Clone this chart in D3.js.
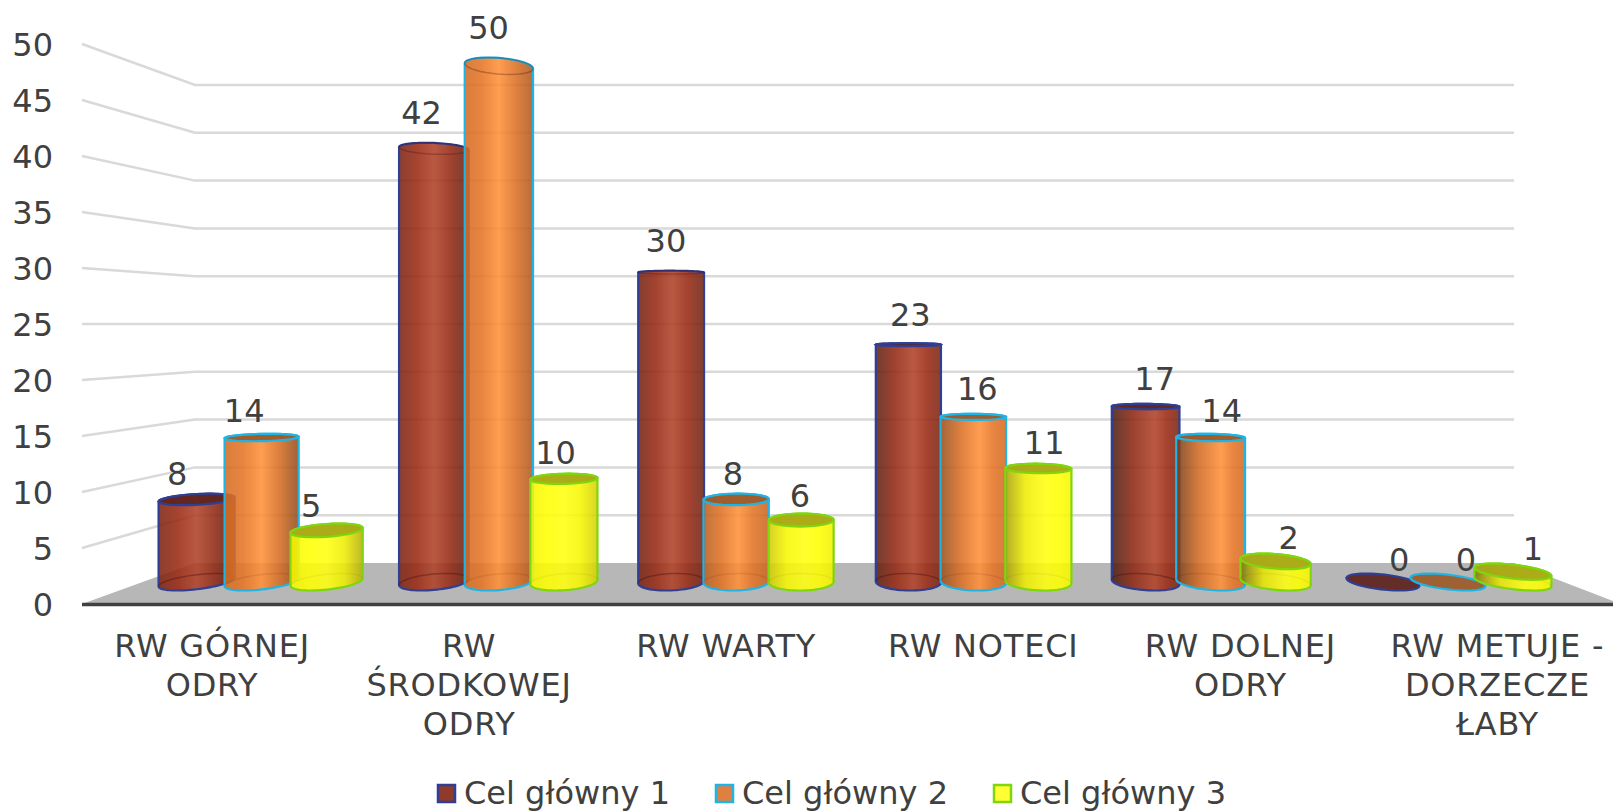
<!DOCTYPE html>
<html>
<head>
<meta charset="utf-8">
<script src="https://cdn.jsdelivr.net/npm/d3@7"></script>
<style>
  html, body { margin: 0; padding: 0; background: #fff; overflow: hidden; }
  text { font-family: "DejaVu Sans", Verdana, sans-serif; font-size: 32px; fill: #404040; }
</style>
</head>
<body>
<div id="chart"></div>
<script>
// chart values
const categories = ["RW GÓRNEJ ODRY", "RW ŚRODKOWEJ ODRY", "RW WARTY", "RW NOTECI", "RW DOLNEJ ODRY", "RW METUJE - DORZECZE ŁABY"];
const categoryLines = [["RW GÓRNEJ", "ODRY"], ["RW", "ŚRODKOWEJ", "ODRY"], ["RW WARTY"], ["RW NOTECI"], ["RW DOLNEJ", "ODRY"], ["RW METUJE -", "DORZECZE", "ŁABY"]];
const seriesNames = ["Cel główny 1", "Cel główny 2", "Cel główny 3"];
const cel1 = [8, 42, 30, 23, 17, 0];
const cel2 = [14, 50, 8, 16, 14, 0];
const cel3 = [5, 10, 6, 11, 2, 1];
const yTicks = [0, 5, 10, 15, 20, 25, 30, 35, 40, 45, 50];

const seriesValues = [cel1, cel2, cel3];
const strokeColors = ["#2f3f94", "#1fb4e6", "#7fd60f"];
const baseColors = ["#992913", "#e57425", "#ffff01"];
const lightColors = ["#b04228", "#ff9038", "#ffff10"];
const capColors = ["#5f2520", "#9c5c2c", "#a8a818"];
const legendColors = ["#8f3a2a", "#e08040", "#ffff33"];
const rimOpacity = [0.4, 0.1, 0.05];
const edgeShade = [0.28, 0.1, 0.04];

const width = 1613, height = 811;

const svg = d3.select("#chart").append("svg")
    .attr("width", width)
    .attr("height", height)
    .style("display", "block");
const defs = svg.append("defs");

// the 3D box: front edge of the left wall, back wall, bar bases, data labels
const yFront = d3.scaleLinear().domain([0, 50]).range([604, 44]);
const yBack = d3.scaleLinear().domain([0, 50]).range([563, 85]);
const yBar = d3.scaleLinear().domain([0, 50]).range([582, 66]);
const yLabel = d3.scaleLinear().domain([0, 50]).range([559, 27.5]);
const x0 = d3.scaleBand().domain(categories).range([143, 1566.5]);
const x1 = d3.scaleBand().domain(seriesNames).range([-97.5, 97.5]);
const xLabels = d3.scaleBand().domain(categories).range([83.5, 1626]);

const frontLeft = 82, frontRight = 1613, backLeft = 195, backRight = 1514;
const vanishX = 840, eyeValue = 25, depth = 276, baseB = 8.5, baseR = 32.5;

// floor
svg.append("polygon")
    .attr("fill", "#b7b7b7")
    .attr("points", [[frontLeft, yFront(0)], [backLeft, yBack(0)], [backRight, yBack(0)], [frontRight, yFront(0) - 3], [frontRight, yFront(0)]].join(" "));

// grid on the back wall and left wall
const gridTicks = yTicks.filter(d => d > 0);
svg.selectAll(".wall")
    .data(gridTicks)
    .join("polyline")
    .attr("class", "wall")
    .attr("fill", "none")
    .attr("stroke", "#d9d9d9")
    .attr("stroke-width", 2.5)
    .attr("points", d => [[frontLeft, yFront(d)], [backLeft, yBack(d)], [backRight, yBack(d)]].join(" "));

// axis line
svg.append("line")
    .attr("x1", frontLeft).attr("x2", frontRight)
    .attr("y1", yFront(0) + 0.5).attr("y2", yFront(0) + 0.5)
    .attr("stroke", "#404040")
    .attr("stroke-width", 3.5);

// y labels
svg.selectAll(".ylab")
    .data(yTicks)
    .join("text")
    .attr("class", "ylab")
    .attr("x", 53)
    .attr("y", d => yFront(d))
    .attr("dy", "0.36em")
    .attr("text-anchor", "end")
    .text(d => d);

// one ellipse of a cylinder, seen in perspective: k shears it toward the vanishing point
function ellipseAt(xc, value) {
    const k0 = (xc - vanishX) / depth;
    const halfW = Math.sqrt(baseR * baseR + k0 * k0 * baseB * baseB);
    const signedB = baseB * (eyeValue - value) / eyeValue;
    const b = Math.max(Math.abs(signedB), 1.5);
    const k = signedB >= 0 ? k0 : -k0;
    const r = Math.sqrt(halfW * halfW - k * k * b * b);
    const t0 = Math.atan2(k * b, r);
    const yc = yBar(value);
    return {
        t0: t0,
        point: t => [xc + r * Math.cos(t) + k * b * Math.sin(t), yc + b * Math.sin(t)]
    };
}

function arcPoints(e, from, to) {
    return d3.range(0, 37).map(i => e.point(from + (to - from) * i / 36));
}

const line = d3.line();

function barOutline(xc, value) {
    const base = ellipseAt(xc, 0), top = ellipseAt(xc, value);
    const front = arcPoints(base, base.t0, base.t0 + Math.PI);
    const back = arcPoints(top, top.t0 + Math.PI, top.t0 + 2 * Math.PI);
    return line(front.concat(back)) + "Z";
}

const bars = [];
categories.forEach((c, i) => {
    seriesNames.forEach((s, j) => {
        bars.push({category: c, series: s, j: j, id: i + "_" + j, value: seriesValues[j][i], xc: x0(c) + x0.bandwidth() / 2 + x1(s) + x1.bandwidth() / 2});
    });
});

// side shading changes with the position of the bar on the floor
bars.forEach(d => {
    const rightDark = Math.max(0, Math.min(1, (vanishX - d.xc) / 900));
    const leftDark = Math.max(0, Math.min(1, (d.xc - 560) / 700));
    const shade = edgeShade[d.j];
    const mix = d3.interpolateRgb(baseColors[d.j], "#2e1c14");
    const peak = 50 + 15 * Math.max(0, Math.min(1, (d.xc - 600) / 600));
    const g = defs.append("linearGradient").attr("id", "grad" + d.id);
    g.append("stop").attr("offset", "0%").attr("stop-color", mix(shade + leftDark * 0.55));
    g.append("stop").attr("offset", (peak / 2) + "%").attr("stop-color", mix(leftDark * 0.12));
    g.append("stop").attr("offset", peak + "%").attr("stop-color", lightColors[d.j]);
    g.append("stop").attr("offset", ((100 + peak) / 2) + "%").attr("stop-color", mix(rightDark * 0.15));
    g.append("stop").attr("offset", "100%").attr("stop-color", mix(shade + rightDark * 0.55));
});

const barGroups = svg.selectAll(".bar")
    .data(bars)
    .join("g")
    .attr("class", "bar");

barGroups.filter(d => d.value > 0).append("path")
    .attr("d", d => barOutline(d.xc, d.value))
    .attr("fill", d => "url(#grad" + d.id + ")")
    .attr("fill-opacity", 0.88)
    .attr("stroke", d => strokeColors[d.j])
    .attr("stroke-width", 2.2);

// back half of the base shows through the body
barGroups.filter(d => d.value > 0).append("path")
    .attr("d", d => {
        const e = ellipseAt(d.xc, 0);
        return line(arcPoints(e, e.t0 + Math.PI, e.t0 + 2 * Math.PI));
    })
    .attr("fill", "none")
    .attr("stroke", "#4a1010")
    .attr("stroke-opacity", d => rimOpacity[d.j])
    .attr("stroke-width", 1.5);

// top of the bar: solid below eye level, only an inner rim above it
barGroups.append("path")
    .attr("d", d => {
        const e = ellipseAt(d.xc, d.value);
        return line(arcPoints(e, 0, 2 * Math.PI)) + "Z";
    })
    .attr("fill", d => d.value <= eyeValue ? capColors[d.j] : "none")
    .attr("fill-opacity", 0.95)
    .attr("stroke", d => d.value <= eyeValue ? strokeColors[d.j] : "#4a1010")
    .attr("stroke-opacity", d => d.value <= eyeValue ? 1 : 0.3)
    .attr("stroke-width", d => d.value <= eyeValue ? 2.2 : 1.5);

// data labels
svg.selectAll(".dlab")
    .data(bars)
    .join("text")
    .attr("class", "dlab")
    .attr("x", d => d.xc + (d.xc - 910) * 0.03 + 2)
    .attr("y", d => yLabel(d.value))
    .attr("dy", "0.36em")
    .attr("text-anchor", "middle")
    .text(d => d.value);

// category labels
const catLabels = svg.selectAll(".cat")
    .data(categories)
    .join("text")
    .attr("class", "cat")
    .attr("text-anchor", "middle")
    .style("letter-spacing", "0.8px");
catLabels.selectAll("tspan")
    .data((d, i) => categoryLines[i].map(t => ({text: t, cat: d})))
    .join("tspan")
    .attr("x", d => xLabels(d.cat) + xLabels.bandwidth() / 2)
    .attr("y", (d, i) => 657 + i * 39)
    .text(d => d.text);

// legend
const legendX = d3.scalePoint().domain(seriesNames).range([437, 993]);
const legend = svg.selectAll(".legend")
    .data(seriesNames)
    .join("g")
    .attr("class", "legend")
    .attr("transform", d => "translate(" + legendX(d) + ",784)");
legend.append("rect")
    .attr("x", 1).attr("y", 1)
    .attr("width", 17).attr("height", 17)
    .attr("fill", (d, i) => legendColors[i])
    .attr("stroke", (d, i) => strokeColors[i])
    .attr("stroke-width", 2.5);
legend.append("text")
    .attr("x", 27)
    .attr("y", 8.5)
    .attr("dy", "0.36em")
    .text(d => d);
</script>
</body>
</html>
